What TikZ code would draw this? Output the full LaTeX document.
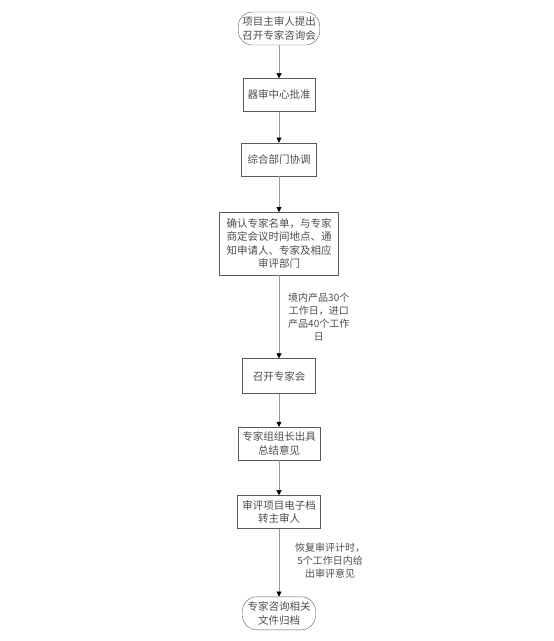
\documentclass[tikz,border=0pt]{standalone}
\usepackage{fontspec}
\newfontfamily\cjk{Noto Sans CJK SC}
\usetikzlibrary{arrows.meta, positioning}
\tikzset{%
	proc/.style={draw=black!65, rectangle, minimum height=33pt, inner xsep=4.5pt,%
		align=center, text=black!70, font=\cjk\fontsize{10.5}{13.5}\selectfont},
	term/.style={proc, rounded corners=14pt, inner xsep=4pt},
	flow/.style={draw=black!40, -{Triangle[black, length=5pt, width=5pt]}},
	note/.style={align=center, text=black!70, inner sep=0pt,%
		font=\cjk\fontsize{10}{13}\selectfont}
}
\begin{document}
\begin{tikzpicture}[x=1pt, y=1pt, node distance=33pt]
	\useasboundingbox (0,0) rectangle (554,-641);
	\node[term] (start) at (279,-28.5) {项目主审人提出\\召开专家咨询会};
	\node[proc, minimum width=72pt] (approve) [below=of start] {器审中心批准};
	\node[proc, minimum width=75pt, node distance=31pt] (coord) [below=of approve] {综合部门协调};
	\node[proc, inner xsep=7pt, minimum height=63pt, node distance=36pt] (confirm) [below=of coord]
		{确认专家名单，与专家\\商定会议时间地点、通\\知申请人、专家及相应\\审评部门};
	\node[proc, minimum width=73pt, minimum height=35pt, node distance=83pt] (meet) [below=of confirm] {召开专家会};
	\node[proc, node distance=33pt] (leader) [below=of meet] {专家组组长出具\\总结意见};
	\node[proc, minimum width=83pt, node distance=35pt] (transfer) [below=of leader] {审评项目电子档\\转主审人};
	\node[term, minimum width=73pt, node distance=68pt] (archive) [below=of transfer] {专家咨询相关\\文件归档};
	\draw[flow] (start) -- (approve);
	\draw[flow] (approve) -- (coord);
	\draw[flow] (coord) -- (confirm);
	\draw[flow] (confirm) -- node[note, right=9pt] (days) {境内产品30个\\工作日，进口\\产品40个工作\\日} (meet);
	\draw[flow] (meet) -- (leader);
	\draw[flow] (leader) -- (transfer);
	\draw[flow] (transfer) -- node[note, right=16pt, yshift=2pt] (resume) {恢复审评计时，\\5个工作日内给\\出审评意见} (archive);
\end{tikzpicture}
\end{document}
